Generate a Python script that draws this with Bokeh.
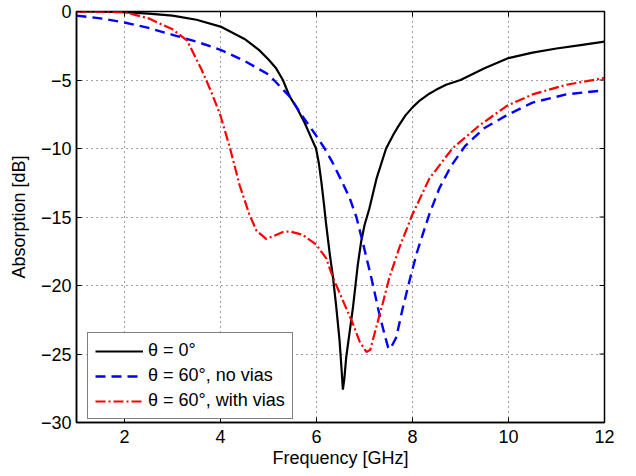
import math
from bokeh.plotting import figure
from bokeh.models import Range1d, FixedTicker, Legend, LegendItem
from bokeh.embed import file_html
from bokeh.resources import INLINE

# Data
x_black = [1, 1.5, 2, 2.5, 3, 3.5, 4, 4.5, 4.8, 5, 5.15, 5.3, 5.44, 5.6, 5.75, 5.9, 5.99, 6.05, 6.1,
           6.15, 6.2, 6.28, 6.34, 6.41, 6.48, 6.52, 6.55, 6.58, 6.62, 6.69, 6.76, 6.86, 6.93, 7.0, 7.1,
           7.25, 7.45, 7.6, 7.7, 7.85, 8.0, 8.15, 8.35, 8.5, 8.7, 9.0, 9.5, 10, 10.5, 11, 11.5, 12]
y_black = [0, -0.02, -0.05, -0.15, -0.3, -0.6, -1.1, -2.0, -2.8, -3.5, -4.1, -5.0, -6.2, -7.1, -8.1,
           -9.3, -10.0, -11.1, -12.4, -13.9, -15.5, -17.8, -19.3, -21.5, -24.0, -26.0, -27.6, -26.8,
           -25.2, -23.4, -21.6, -18.5, -16.8, -15.6, -14.4, -12.2, -10.0, -9.0, -8.4, -7.6, -7.0, -6.5,
           -6.0, -5.7, -5.35, -5.0, -4.15, -3.4, -3.0, -2.7, -2.45, -2.2]

x_blue = [1, 1.5, 2, 2.5, 3, 3.5, 4, 4.5, 5, 5.44, 5.7, 6.0, 6.17, 6.33, 6.5, 6.69, 6.83, 6.96, 7.14,
          7.31, 7.42, 7.49, 7.52, 7.57, 7.66, 7.8, 7.97, 8.1, 8.35, 8.56, 8.8, 9.1, 9.5, 9.95, 10.5,
          11.2, 12]
y_blue = [-0.3, -0.5, -0.8, -1.2, -1.7, -2.2, -2.8, -3.6, -4.6, -6.2, -7.6, -9.1, -10.0, -11.0, -12.2,
          -13.6, -15.0, -16.8, -19.4, -22.1, -23.6, -24.5, -24.65, -24.4, -23.8, -21.6, -19.2, -17.5,
          -14.8, -12.9, -11.3, -9.8, -8.5, -7.6, -6.65, -6.05, -5.75]

x_red = [1, 1.5, 2, 2.5, 3, 3.3, 3.6, 3.8, 4.0, 4.2, 4.4, 4.6, 4.75, 4.95, 5.1, 5.3, 5.44, 5.71, 5.99,
         6.2, 6.34, 6.55, 6.76, 6.9, 7.04, 7.12, 7.21, 7.38, 7.52, 7.73, 8.0, 8.35, 8.83, 9.4, 9.96,
         10.5, 11.2, 12]
y_red = [0, -0.02, -0.05, -0.5, -1.3, -2.1, -4.2, -5.8, -7.6, -10.0, -12.7, -14.8, -16.0, -16.6, -16.4,
         -16.1, -16.05, -16.3, -17.0, -18.0, -19.4, -21.1, -22.8, -24.1, -24.85, -24.7, -23.5, -21.3,
         -19.4, -17.2, -14.8, -12.2, -10.0, -8.3, -6.9, -6.05, -5.35, -4.85]

x_ticks = [2, 4, 6, 8, 10, 12]
y_ticks = [0, -5, -10, -15, -20, -25, -30]
y_tick_labels = ["0", "\u22125", "\u221210", "\u221215", "\u221220", "\u221225", "\u221230"]

labels = ["\u03b8 = 0\u00b0", "\u03b8 = 60\u00b0, no vias", "\u03b8 = 60\u00b0, with vias"]

FONT = "Liberation Sans"
X_MIN, X_MAX, Y_MIN, Y_MAX = 1, 12, -30, 0

p = figure(width=620, height=470, output_backend="svg", toolbar_location=None,
           x_range=Range1d(X_MIN, X_MAX), y_range=Range1d(Y_MIN, Y_MAX),
           min_border_left=76, min_border_right=16, min_border_top=11, min_border_bottom=45)

p.background_fill_color = "white"
p.border_fill_color = "white"
p.outline_line_color = "black"
p.outline_line_width = 1.5

# grid
for g in [p.xgrid[0], p.ygrid[0]]:
    g.grid_line_color = "black"
    g.grid_line_dash = "1 4"
    g.grid_line_alpha = 0.75
    g.grid_line_width = 1
p.xgrid[0].ticker = FixedTicker(ticks=x_ticks)
p.ygrid[0].ticker = FixedTicker(ticks=y_ticks)

r1 = p.line(x_black, y_black, line_color="black", line_width=2.2)
r2 = p.line(x_blue, y_blue, line_color="blue", line_width=2.4, line_dash="10 6")
r3 = p.line(x_red, y_red, line_color="red", line_width=2.2, line_dash="10 3 2 3")

# inward ticks on the top and right edges (clipped half-markers at the frame edge)
p.scatter(x=x_ticks, y=[Y_MAX] * len(x_ticks), marker="dash", size=10, angle=math.pi / 2,
          line_color="black", line_width=1)
p.scatter(x=[X_MAX] * len(y_ticks), y=y_ticks, marker="dash", size=10,
          line_color="black", line_width=1)

for ax in [p.xaxis[0], p.yaxis[0]]:
    ax.major_tick_in = 5
    ax.major_tick_out = 0
    ax.minor_tick_in = 0
    ax.minor_tick_out = 0
    ax.axis_line_color = "black"
    ax.axis_line_width = 1.5
    ax.major_tick_line_color = "black"
    ax.major_label_text_font = FONT
    ax.major_label_text_font_size = "18px"
    ax.major_label_text_color = "black"
    ax.axis_label_text_font = FONT
    ax.axis_label_text_font_size = "18px"
    ax.axis_label_text_font_style = "normal"
    ax.axis_label_text_color = "black"

p.xaxis[0].ticker = FixedTicker(ticks=x_ticks)
p.yaxis[0].ticker = FixedTicker(ticks=y_ticks)
p.yaxis[0].major_label_overrides = {t: l for t, l in zip(y_ticks, y_tick_labels)}
p.xaxis[0].axis_label = "Frequency [GHz]"
p.yaxis[0].axis_label = "Absorption [dB]"
p.xaxis[0].major_label_standoff = 7
p.yaxis[0].major_label_standoff = 5
p.xaxis[0].axis_label_standoff = 2
p.yaxis[0].axis_label_standoff = 9

legend = Legend(items=[LegendItem(label=labels[0], renderers=[r1]),
                       LegendItem(label=labels[1], renderers=[r2]),
                       LegendItem(label=labels[2], renderers=[r3])],
                location=(11, 3))
legend.border_line_color = "black"
legend.border_line_width = 1.2
legend.label_text_font = FONT
legend.label_text_font_size = "18px"
legend.label_text_color = "black"
legend.glyph_width = 48
legend.glyph_height = 20
legend.label_height = 20
legend.spacing = 4
legend.padding = 7
legend.margin = 0
legend.label_standoff = 5
legend.background_fill_alpha = 1
p.add_layout(legend, "center")

open("out.html", "w").write(file_html(p, INLINE))
